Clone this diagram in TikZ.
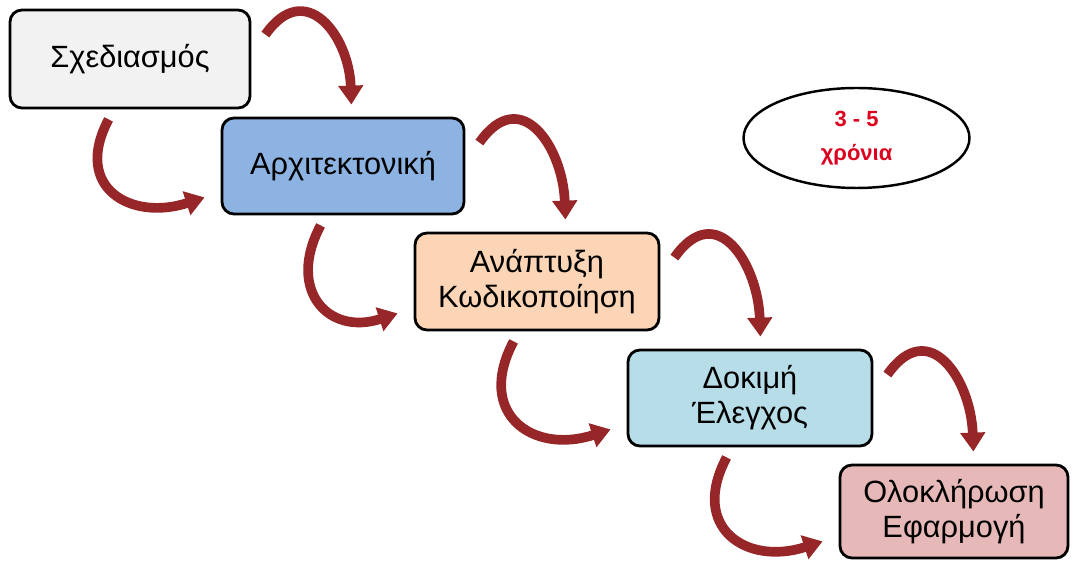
\documentclass[tikz,border=0pt]{standalone}
\usepackage{fontspec}
\setmainfont{Liberation Sans}
\usepackage{xcolor}
\usepackage{tikz}
\usetikzlibrary{arrows.meta}
\usetikzlibrary{positioning}
\usetikzlibrary{calc}
\usetikzlibrary{shapes.geometric}

\definecolor{arrowred}{RGB}{150,38,40}
\definecolor{yearsred}{RGB}{220,0,30}
\definecolor{planfill}{RGB}{242,242,242}
\definecolor{archfill}{RGB}{141,179,226}
\definecolor{codefill}{RGB}{251,213,181}
\definecolor{testfill}{RGB}{183,222,232}
\definecolor{donefill}{RGB}{230,185,184}

\tikzset{
  phase/.style={draw=black, line width=1.6pt, rounded corners=0.24cm, align=center,
    inner sep=0pt, font=\fontsize{17.5}{20}\selectfont},
  flow/.style={draw=arrowred, line width=5.5pt,
    -{Triangle[width=0.48cm,length=0.38cm,fill=arrowred]}},
}

\begin{document}
\begin{tikzpicture}
\useasboundingbox (0,0) rectangle (21.5,11.26);
\node[phase, fill=planfill, minimum width=4.8cm, minimum height=1.96cm] at (2.6,10.08) (s) {Σχεδιασμός};
\node[phase, fill=archfill, minimum width=4.84cm, minimum height=1.92cm] at (6.86,7.94) (a) {Αρχιτεκτονική};
\node[phase, fill=codefill, minimum width=4.88cm, minimum height=1.94cm] at (10.74,5.63) (k) {Ανάπτυξη\\Κωδικοποίηση};
\node[phase, fill=testfill, minimum width=4.88cm, minimum height=1.92cm] at (15.0,3.30) (d) {Δοκιμή\\Έλεγχος};
\node[phase, fill=donefill, minimum width=4.56cm, minimum height=1.86cm] at (19.08,1.03) (o) {Ολοκλήρωση\\Εφαρμογή};
\node[ellipse, draw=black, line width=1.4pt, minimum width=4.52cm, minimum height=2cm, align=center,
  text=yearsred, font=\fontsize{12.5}{19}\selectfont\bfseries] at (17.13,8.5) (y) {3 - 5\\χρόνια};
% top arcs
\draw[flow] ([shift={(0.28,-0.52)}]s.north east) to[out=55,in=92,looseness=1.6] ($(s.east |- a.north)+(2,0.24)$);
\draw[flow] ([shift={(0.28,-0.52)}]a.north east) to[out=55,in=92,looseness=1.6] ($(a.east |- k.north)+(2,0.24)$);
\draw[flow] ([shift={(0.28,-0.52)}]k.north east) to[out=55,in=92,looseness=1.6] ($(k.east |- d.north)+(2,0.24)$);
\draw[flow] ([shift={(0.28,-0.52)}]d.north east) to[out=55,in=92,looseness=1.6] ($(d.east |- o.north)+(2,0.24)$);
% bottom arcs
\draw[flow] ([shift={(2,-0.2)}]s.south west) to[out=242,in=198,looseness=1.6] ([shift={(-0.32,0.36)}]a.south west);
\draw[flow] ([shift={(2,-0.2)}]a.south west) to[out=242,in=198,looseness=1.6] ([shift={(-0.32,0.36)}]k.south west);
\draw[flow] ([shift={(2,-0.2)}]k.south west) to[out=242,in=198,looseness=1.6] ([shift={(-0.32,0.36)}]d.south west);
\draw[flow] ([shift={(2,-0.2)}]d.south west) to[out=242,in=198,looseness=1.6] ([shift={(-0.32,0.36)}]o.south west);
\end{tikzpicture}
\end{document}
